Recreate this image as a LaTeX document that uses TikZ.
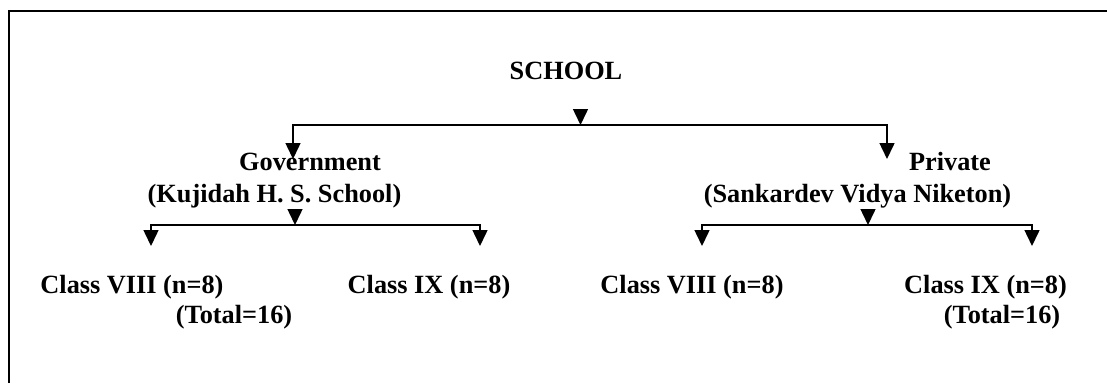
\documentclass[tikz,border=0pt]{standalone}
\usepackage{fontspec}
\setmainfont{Liberation Serif}
\usetikzlibrary{arrows.meta}
\begin{document}
\begin{tikzpicture}[x=1pt,y=-1pt,
  lbl/.style={anchor=base,inner sep=0pt,font=\fontsize{26.3}{30}\selectfont\bfseries},
  conn/.style={line width=1.5pt,line join=miter},
  arr/.style={conn,-{Triangle[length=16pt,width=15pt]}},
  frame/.style={line width=1.6pt}]
\useasboundingbox (0,0) rectangle (1107,383);
\draw[frame] (9,383) -- (9,11) -- (1107,11);
% texts
\node[lbl] (school) at (566,79) {SCHOOL};
\node[lbl] (gov) at (310,170) {Government};
\node[lbl] (kuj) at (274.5,202) {(Kujidah H. S. School)};
\node[lbl] (priv) at (950,170) {Private};
\node[lbl] (sank) at (857.5,202) {(Sankardev Vidya Niketon)};
\node[lbl] (c8l) at (132,293) {Class VIII (n=8)};
\node[lbl] (totl) at (234,323) {(Total=16)};
\node[lbl] (c9l) at (429,293) {Class IX (n=8)};
\node[lbl] (c8r) at (692,293) {Class VIII (n=8)};
\node[lbl] (c9r) at (985.5,293) {Class IX (n=8)};
\node[lbl] (totr) at (1002,323) {(Total=16)};
% top level connectors
\coordinate (sA) at (580.5,109);
\coordinate (sB) at (580.5,125);
\coordinate (gL) at (293,125);
\coordinate (gR) at (887,125);
\coordinate (gLt) at (293,159);
\coordinate (gRt) at (887,159);
\draw[arr] (sA) -- (sB);
\draw[arr] (gR) -- (gL) -- (gLt);
\draw[arr] (gL) -- (gR) -- (gRt);
% left subtree
\coordinate (kA) at (295,210);
\coordinate (kB) at (295,225);
\coordinate (kL) at (151,225);
\coordinate (kR) at (480,225);
\coordinate (kLt) at (151,246);
\coordinate (kRt) at (480,246);
\draw[arr] (kA) -- (kB);
\draw[arr] (kR) -- (kL) -- (kLt);
\draw[arr] (kL) -- (kR) -- (kRt);
% right subtree
\coordinate (pA) at (868,210);
\coordinate (pB) at (868,225);
\coordinate (pL) at (702,225);
\coordinate (pR) at (1032,225);
\coordinate (pLt) at (702,246);
\coordinate (pRt) at (1032,246);
\draw[arr] (pA) -- (pB);
\draw[arr] (pR) -- (pL) -- (pLt);
\draw[arr] (pL) -- (pR) -- (pRt);
\end{tikzpicture}
\end{document}
